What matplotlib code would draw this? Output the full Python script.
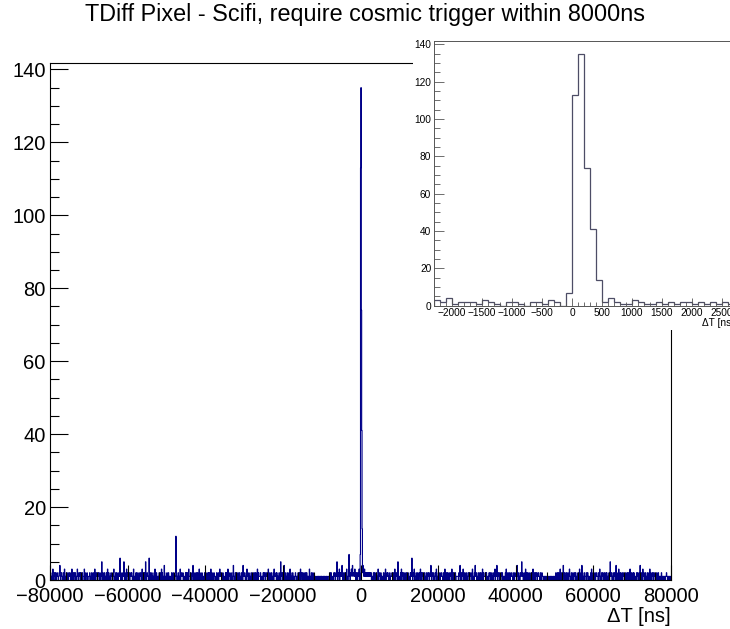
import matplotlib
matplotlib.use("Agg")
import matplotlib.pyplot as plt
import numpy as np

plt.rcParams['font.family'] = ['Liberation Sans', 'DejaVu Sans']

title = "TDiff Pixel - Scifi, require cosmic trigger within 8000ns"
xlabel = "\u0394T [ns]"

# main histogram: 1600 bins of 100 ns from -80000 to 80000
# one line = 100 bins, 'c' = 12
main_rows = [
    "1201102310 0211201121 1012241012 2101120311 0121102011 2110213012 1021120101 3110211202 1012011130 2101121011",
    "1120101211 0211031012 1102112010 1215012101 2011021130 1201101211 0112301102 1021101211 6101120112 5102110312",
    "1011201121 2101130110 1210211012 0112101310 1201215011 2110161021 1021101120 3101210111 0211021302 1101420110",
    "1201120111 0102110201 1011c21011 2101130121 1120101102 0211201311 1021102141 0112011201 2101302110 1210111021",
    "1101201120 2110310211 0121101102 1012011311 2101120101 1120211031 0211102110 1241011201 2011201120 1102110411",
    "2110120311 1021101120 0112011201 2101310211 1120101102 0211201121 1031102110 2101120311 1120211011 2101521102",
    "1214011201 1021102130 2110120111 0121101102 1102130211 2011201120 1210111031 0112011201 1010100101 0110101011",
    "1001101010 0110100111 1210211011 0211201125 1021130211 2141021102 1120311011 7120213324 1222132102 2102213207",
    "0000024211 3211212122 1212121201 1102112010 2110130121 1021101102 0112301121 2101120111 1210211031 0121105110",
    "1102130211 2011201120 1120111021 2161021130 0112011201 1210310211 2011201102 1102112011 2410211201 1021130110",
    "2011201121 1102110301 0211201120 1121031102 2011201111 1102114021 0211301120 1120110211 2011211031 1102141120",
    "0112011201 2101310211 1120211011 0211201120 1102113011 2410211201 1021120111 0112031102 2011201121 1102110211",
    "1204112011 0211251120 1102130211 2011201102 1120311021 0211201121 1102110211 1010110101 0110101001 1010010110",
    "1102110211 2011301120 1141021102 2011201131 0112011201 1210211011 2011301120 4120110211 1021120111 0112031102",
    "2011201121 1102113011 0211201120 1120211011 2015211201 1021120141 0112031102 2011201121 1102110211 2011301120",
    "1120211011 0211201120 4102110311 2011201102 1102130211 0211201121 1102110201 1101120101 0110101121 1001101010",
]

# zoomed histogram: 50 bins of 100 ns from -2300 to 2700
inset_counts = [3, 2, 4, 1, 2, 2, 2, 1, 3, 2, 1, 0, 2, 2, 1, 0, 2, 2, 1, 3, 2, 0, 7,
                113, 135, 74, 41, 14, 2, 4, 2, 1, 1, 3, 2, 1, 1, 2, 1, 2, 1, 2, 2,
                1, 2, 1, 2, 1, 2, 1]

main_counts = np.array([int(ch, 36) for row in main_rows for ch in row.replace(" ", "")], float)
main_edges = np.linspace(-80000, 80000, len(main_counts) + 1)
inset_edges = np.linspace(-2300, 2700, len(inset_counts) + 1)
# the inset is the central part of the same histogram
start = np.searchsorted(main_edges, -2300)
main_counts[start:start + len(inset_counts)] = inset_counts

W, H = 730, 629
def box(l, t, r, b):
    return [l / W, 1 - b / H, (r - l) / W, (b - t) / H]

fig = plt.figure(figsize=(7.3, 6.29), dpi=100)
fig.text(365 / W, 1 - 15 / H, title, ha='center', va='center', fontsize=16.8)

ymax = max(inset_counts) * 1.05

ax = fig.add_axes(box(50, 63, 671, 580))
ax.stairs(main_counts, main_edges, color='#000088', lw=0.8)
ax.set_xlim(-80000, 80000)
ax.set_ylim(0, ymax)
ax.set_xticks(np.arange(-80000, 80001, 20000))
ax.set_xticks(np.arange(-80000, 80001, 4000), minor=True)
ax.set_yticks(np.arange(0, 141, 20))
ax.set_yticks(np.arange(0, 141, 5), minor=True)
ax.tick_params(which='both', direction='in', top=False, right=False, labelsize=14.5, width=0.8)
ax.tick_params(axis='y', which='major', length=13, pad=3)
ax.tick_params(axis='y', which='minor', length=6.5)
ax.tick_params(axis='x', which='major', length=11, pad=5)
ax.tick_params(axis='x', which='minor', length=5.5)
for s in ax.spines.values():
    s.set_linewidth(0.8)
ax.set_xlabel(xlabel, fontsize=14.5, loc='right', labelpad=1)

# white pad behind the inset
pad = fig.add_axes(box(413, 28, 760, 330))
pad.set_zorder(1)
pad.set_xticks([])
pad.set_yticks([])
for s in pad.spines.values():
    s.set_visible(False)

ins = fig.add_axes(box(434, 41, 734, 305.7))
ins.set_zorder(2)
ins.stairs(inset_counts, inset_edges, color='#4d4d66', lw=0.9)
ins.set_xlim(-2300, 2700)
ins.set_ylim(0, ymax)
ins.set_xticks(np.arange(-2000, 2501, 500))
ins.set_xticks(np.arange(-2300, 2701, 100), minor=True)
ins.set_yticks(np.arange(0, 141, 20))
ins.set_yticks(np.arange(0, 141, 5), minor=True)
ins.tick_params(which='both', direction='in', top=False, right=False, labelsize=7.3,
                width=0.6, color='#555555')
ins.tick_params(axis='y', which='major', length=7.5, pad=2)
ins.tick_params(axis='y', which='minor', length=4)
ins.tick_params(axis='x', which='major', length=6, pad=2)
ins.tick_params(axis='x', which='minor', length=3)
for s in ins.spines.values():
    s.set_linewidth(0.7)
    s.set_color('#555555')
ins.set_xlabel(xlabel, fontsize=7.3, loc='right', labelpad=0)

fig.savefig("out.png", dpi=100)
